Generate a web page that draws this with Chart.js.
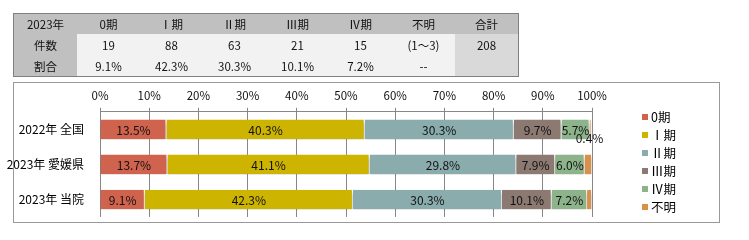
<!DOCTYPE html>
<html>
<head>
<meta charset="utf-8">
<script src="https://cdn.jsdelivr.net/npm/chart.js@4/dist/chart.umd.min.js"></script>
<style>
  body { margin: 0; background: #fff; width: 749px; height: 240px; position: relative; overflow: hidden; }
  #tbl { position: absolute; left: 13px; top: 13px; border-collapse: collapse; border: 1px solid #808080;
         font-family: "Noto Sans CJK JP", sans-serif; font-size: 11.5px; color: #111; z-index: 2; }
  #tbl td { width: 63px; padding: 0; text-align: center; background: #f2f2f2; }
  #tbl tr:first-child td { height: 20px; background: #c0c0c0; }
  #tbl tr td:first-child { background: #c0c0c0; }
  #tbl tr:not(:first-child) td { height: 21px; }
  #tbl tr:not(:first-child) td:last-child { background: #d9d9d9; }
  #box { position: absolute; left: 13px; top: 82px; width: 705px; height: 139px; border: 1px solid #999; }
  #chart { position: absolute; left: 0; top: 0; }
  #legend { position: absolute; left: 642px; top: 108px; margin: 0; padding: 0; list-style: none;
            font-family: "Noto Sans CJK JP", sans-serif; font-size: 12.5px; color: #000; }
  #legend li { height: 18px; line-height: 18px; display: flex; align-items: center; }
  #legend span.sw { width: 6px; height: 6px; margin-right: 3px; display: inline-block; }
</style>
</head>
<body>
<table id="tbl"></table>
<div id="box"></div>
<canvas id="chart" width="749" height="240"></canvas>
<ul id="legend"></ul>
<script>
// 表のデータ
const tableHeader = ['2023年', '0期', 'Ⅰ期', 'Ⅱ期', 'Ⅲ期', 'Ⅳ期', '不明', '合計'];
const countRow = ['件数', '19', '88', '63', '21', '15', '(1～3)', '208'];
const ratioRow = ['割合', '9.1%', '42.3%', '30.3%', '10.1%', '7.2%', '--', ''];

// グラフのデータ (%)
const categories = ['2022年 全国', '2023年 愛媛県', '2023年 当院'];
const stageLabels = ['0期', 'Ⅰ期', 'Ⅱ期', 'Ⅲ期', 'Ⅳ期', '不明'];
const stage0 = [13.5, 13.7, 9.1];
const stage1 = [40.3, 41.1, 42.3];
const stage2 = [30.3, 29.8, 30.3];
const stage3 = [9.7, 7.9, 10.1];
const stage4 = [5.7, 6.0, 7.2];
const stageUnknown = [0.4, 1.5, 1.0];
const xTicks = [0, 10, 20, 30, 40, 50, 60, 70, 80, 90, 100];

const colors = ['#cf634e', '#cdb400', '#8aacad', '#8c7a72', '#8db38b', '#d99148'];
const numFont = '"Noto Sans CJK JP", sans-serif';

// 表を組み立てる
const tbl = document.getElementById('tbl');
[tableHeader, countRow, ratioRow].forEach(row => {
  const tr = document.createElement('tr');
  row.forEach(cell => {
    const td = document.createElement('td');
    td.textContent = cell;
    tr.appendChild(td);
  });
  tbl.appendChild(tr);
});

const seriesList = [stage0, stage1, stage2, stage3, stage4, stageUnknown];
const datasets = seriesList.map((vals, i) => ({
  label: stageLabels[i],
  data: vals,
  backgroundColor: colors[i],
  borderColor: '#ffffff',
  borderWidth: { left: 0, right: 1, top: 0, bottom: 0 },
  borderSkipped: false,
  barPercentage: 0.56,
  categoryPercentage: 1
}));

// 影
const shadowPlugin = {
  id: 'shadow',
  beforeDatasetsDraw(chart) {
    const ctx = chart.ctx;
    ctx.save();
    ctx.shadowColor = 'rgba(0,0,0,0.35)';
    ctx.shadowBlur = 4;
    ctx.shadowOffsetY = 3;
  },
  afterDatasetsDraw(chart) {
    chart.ctx.restore();
  }
};

// データラベル
const labelPlugin = {
  id: 'barLabels',
  afterDraw(chart) {
    const ctx = chart.ctx;
    ctx.save();
    ctx.font = '12px ' + numFont;
    ctx.fillStyle = '#111';
    ctx.textAlign = 'center';
    ctx.textBaseline = 'middle';
    chart.data.datasets.forEach((ds, di) => {
      const meta = chart.getDatasetMeta(di);
      meta.data.forEach((bar, i) => {
        const v = ds.data[i];
        const txt = v.toFixed(1) + '%';
        if (di === 5) {
          // 不明は小さいので全国のみ外側に表示
          if (i === 0) ctx.fillText(txt, bar.x - 2, bar.y + 9);
          return;
        }
        ctx.fillText(txt, (bar.x + bar.base) / 2, bar.y + 1);
      });
    });
    ctx.restore();
  }
};

new Chart(document.getElementById('chart'), {
  type: 'bar',
  data: { labels: categories, datasets: datasets },
  options: {
    indexAxis: 'y',
    responsive: false,
    animation: false,
    layout: { padding: { left: 0, right: 157, top: 84, bottom: 23 } },
    plugins: { legend: { display: false }, tooltip: { enabled: false } },
    scales: {
      x: {
        position: 'top',
        stacked: true,
        min: 0,
        max: 100,
        afterBuildTicks(scale) { scale.ticks = xTicks.map(v => ({ value: v })); },
        ticks: {
          callback: v => v + '%',
          padding: 5,
          color: '#111',
          font: { family: numFont, size: 11.5 }
        },
        grid: { color: '#878787', tickLength: 4, lineWidth: 1 },
        border: { color: '#878787' }
      },
      y: {
        stacked: true,
        afterFit(scale) { scale.width = 100; },
        ticks: {
          padding: 8,
          color: '#000',
          font: { family: '"Noto Sans CJK JP", sans-serif', size: 12 }
        },
        grid: { display: false },
        border: { display: false }
      }
    }
  },
  plugins: [shadowPlugin, labelPlugin]
});

// 凡例
const legend = document.getElementById('legend');
stageLabels.forEach((lab, i) => {
  const li = document.createElement('li');
  li.innerHTML = '<span class="sw" style="background:' + colors[i] + '"></span>' + lab;
  legend.appendChild(li);
});
</script>
</body>
</html>
